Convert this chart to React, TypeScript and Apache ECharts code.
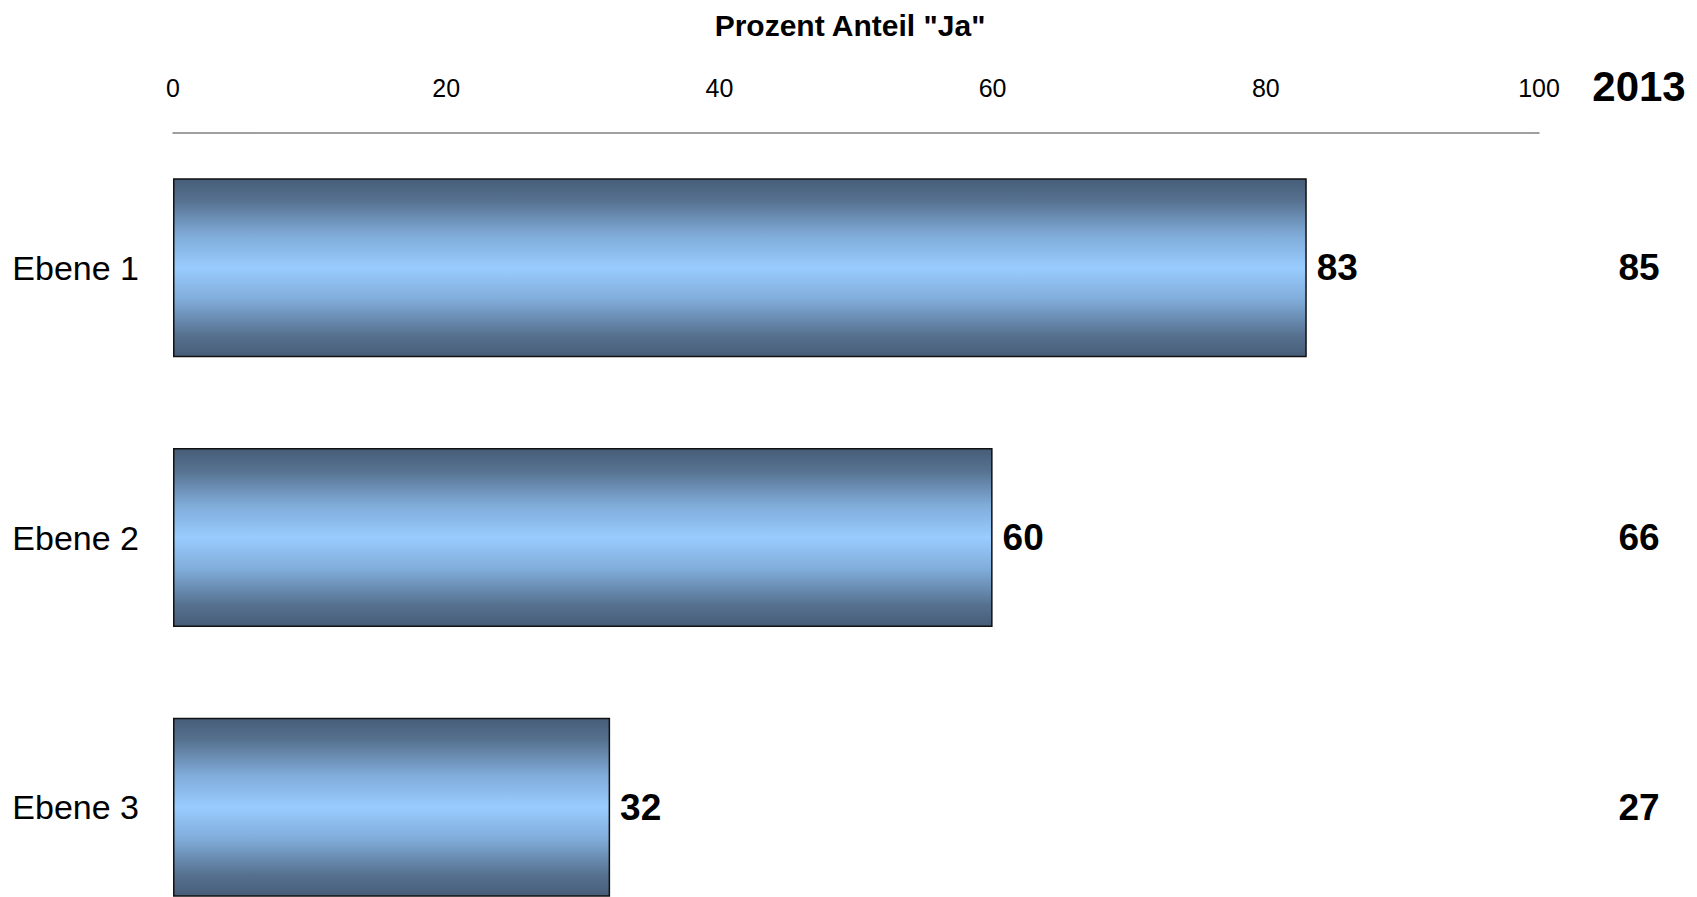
import React, { useEffect, useRef } from "react";
import * as echarts from "echarts";

const categories = ["Ebene 1", "Ebene 2", "Ebene 3"];
const values2014 = [83, 60, 32];
const values2013 = [85, 66, 27];
const priorYearLabel = "2013";
const axisTitle = 'Prozent Anteil "Ja"';
const FONT = "'Liberation Sans', Arial, sans-serif";

export default function App() {
  const ref = useRef<HTMLDivElement>(null);
  useEffect(() => {
    if (!ref.current) return;
    const chart = echarts.init(ref.current, undefined, { renderer: "svg" });
    const gradient = new echarts.graphic.LinearGradient(0, 0, 0, 1, [
      { offset: 0, color: "#465D78" },
      { offset: 0.12, color: "#56718F" },
      { offset: 0.32, color: "#80ACD9" },
      { offset: 0.5, color: "#99CCFF" },
      { offset: 0.68, color: "#80ACD9" },
      { offset: 0.88, color: "#56718F" },
      { offset: 1, color: "#465D78" },
    ]);
    chart.setOption({
      animation: false,
      backgroundColor: "#ffffff",
      textStyle: { fontFamily: FONT },
      grid: { left: 173, right: 158, top: 133, bottom: 0, containLabel: false },
      xAxis: {
        type: "value",
        position: "top",
        min: 0,
        max: 100,
        interval: 20,
        axisLine: { show: true, lineStyle: { color: "#808080", width: 1.5 } },
        axisTick: { show: false },
        splitLine: { show: false },
        axisLabel: { fontSize: 25, color: "#000", margin: 33, fontFamily: FONT },
      },
      yAxis: [
        {
          type: "category",
          data: categories,
          inverse: true,
          axisLine: { show: false },
          axisTick: { show: false },
          axisLabel: { fontSize: 34, color: "#000", margin: 34, fontFamily: FONT },
        },
        {
          type: "category",
          data: values2013.map(String),
          inverse: true,
          position: "right",
          axisLine: { show: false },
          axisTick: { show: false },
          axisLabel: {
            fontSize: 37,
            fontWeight: "bold",
            color: "#000",
            margin: 100,
            align: "center",
            fontFamily: FONT,
          },
        },
      ],
      series: [
        {
          type: "bar",
          data: values2014,
          yAxisIndex: 0,
          barCategoryGap: "33.6%",
          itemStyle: { color: gradient, borderColor: "#111", borderWidth: 1.5 },
          label: {
            show: true,
            position: "right",
            distance: 10,
            fontSize: 37,
            fontWeight: "bold",
            color: "#000",
            fontFamily: FONT,
          },
        },
      ],
      graphic: [
        {
          type: "text",
          x: 850,
          y: 25,
          style: {
            text: axisTitle,
            fontSize: 30,
            fontWeight: "bold",
            fill: "#000",
            align: "center",
            verticalAlign: "middle",
            fontFamily: FONT,
          },
        },
        {
          type: "text",
          x: 1639,
          y: 86,
          style: {
            text: priorYearLabel,
            fontSize: 42,
            fontWeight: "bold",
            fill: "#000",
            align: "center",
            verticalAlign: "middle",
            fontFamily: FONT,
          },
        },
      ],
    });
    return () => chart.dispose();
  }, []);
  return (
    <div
      style={{
        position: "absolute",
        left: 0,
        top: 0,
        width: 1697,
        height: 897,
        overflow: "hidden",
      }}
    >
      <div ref={ref} style={{ width: 1697, height: 942 }} />
    </div>
  );
}
